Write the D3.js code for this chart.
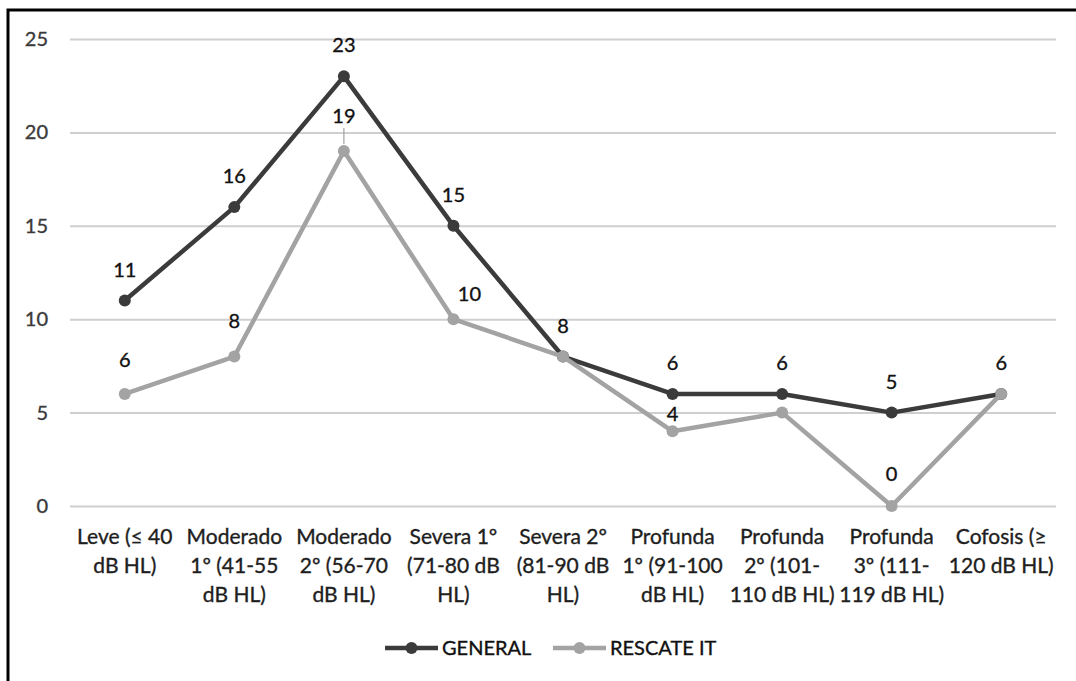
<!DOCTYPE html>
<html>
<head>
<meta charset="utf-8">
<script src="https://cdn.jsdelivr.net/npm/d3@7"></script>
<style>
  html, body { margin: 0; padding: 0; background: #fff; }
  svg { display: block; font-family: Lato, "Open Sans", sans-serif; }
  svg text { stroke-width: 0.35px; paint-order: stroke; }
</style>
</head>
<body>
<div id="chart"></div>
<script>
const width = 1076;
const height = 681;

// categorías (cada una ya partida en líneas)
const categories = [
  ["Leve (≤ 40", "dB HL)"],
  ["Moderado", "1º (41-55", "dB HL)"],
  ["Moderado", "2º (56-70", "dB HL)"],
  ["Severa 1º", "(71-80 dB", "HL)"],
  ["Severa 2º", "(81-90 dB", "HL)"],
  ["Profunda", "1º (91-100", "dB HL)"],
  ["Profunda", "2º (101-", "110 dB HL)"],
  ["Profunda", "3º (111-", "119 dB HL)"],
  ["Cofosis (≥", "120 dB HL)"]
];
const generalValues = [11, 16, 23, 15, 8, 6, 6, 5, 6];
const rescateValues = [6, 8, 19, 10, 8, 4, 5, 0, 6];
// etiquetas visibles de RESCATE IT (las que se solapan no se muestran)
const rescateShown = [true, true, true, true, false, true, false, true, false];
const yTicks = [0, 5, 10, 15, 20, 25];

const series = [
  { name: "GENERAL", values: generalValues, color: "#3b3b3b" },
  { name: "RESCATE IT", values: rescateValues, color: "#a3a3a3" }
];

// ajustes de posición de las etiquetas de RESCATE IT
const rescateDy = [27, 29, 28, 18, 24, 10, 24, 25, 24];
const rescateDx = [0, 0, 0, 16, 0, 0, 0, 0, 0];

const svg = d3.select("#chart")
  .append("svg")
  .attr("width", width)
  .attr("height", height);

const x = d3.scaleBand()
  .domain(d3.range(categories.length))
  .range([70, 1056]);
const cx = i => x(i) + x.bandwidth() / 2;

const y = d3.scaleLinear()
  .domain([0, 25])
  .range([506, 39]);

// borde
svg.append("path")
  .attr("d", `M8,${height} L8,10 L${width},10`)
  .attr("fill", "none")
  .attr("stroke", "#000")
  .attr("stroke-width", 3);

// rejilla + ticks
const yAxis = d3.axisLeft(y)
  .tickValues(yTicks)
  .tickSize(-(1056 - 70))
  .tickPadding(22);

const gy = svg.append("g")
  .attr("transform", "translate(70,0)")
  .call(yAxis);
gy.select(".domain").remove();
gy.selectAll(".tick line")
  .attr("stroke", "#cfcfcf")
  .attr("stroke-width", 2);
gy.selectAll(".tick text")
  .attr("fill", "#3a3a3a")
  .attr("stroke", "#3a3a3a")
  .style("font-size", "20px")
  .style("font-family", "Lato, sans-serif");

// etiquetas del eje x
const xl = svg.append("g");
categories.forEach((lines, i) => {
  const t = xl.append("text")
    .attr("x", cx(i))
    .attr("y", 544)
    .attr("text-anchor", "middle")
    .attr("fill", "#1e1e1e")
    .attr("stroke", "#1e1e1e")
    .style("font-size", "21px");
  lines.forEach((ln, j) => {
    t.append("tspan")
      .attr("x", cx(i))
      .attr("dy", j === 0 ? 0 : 29)
      .text(ln);
  });
});

const line = d3.line()
  .x((d, i) => cx(i))
  .y(d => y(d));

series.forEach(s => {
  svg.append("path")
    .datum(s.values)
    .attr("fill", "none")
    .attr("stroke", s.color)
    .attr("stroke-width", 4.5)
    .attr("stroke-linejoin", "round")
    .attr("d", line);
  svg.append("g")
    .selectAll("circle")
    .data(s.values)
    .join("circle")
    .attr("cx", (d, i) => cx(i))
    .attr("cy", d => y(d))
    .attr("r", 6)
    .attr("fill", s.color);
});

// línea guía del 19
svg.append("line")
  .attr("x1", cx(2)).attr("x2", cx(2))
  .attr("y1", y(rescateValues[2]) - 23)
  .attr("y2", y(rescateValues[2]) - 7)
  .attr("stroke", "#a3a3a3")
  .attr("stroke-width", 1.2);

// etiquetas de datos
svg.append("g")
  .selectAll("text")
  .data(generalValues)
  .join("text")
  .attr("x", (d, i) => cx(i))
  .attr("y", d => y(d) - 24)
  .attr("text-anchor", "middle")
  .attr("fill", "#111")
  .attr("stroke", "#111")
  .style("font-size", "20px")
  .text(d => d);

svg.append("g")
  .selectAll("text")
  .data(rescateValues.map((v, i) => ({ v, i })).filter(d => rescateShown[d.i]))
  .join("text")
  .attr("x", d => cx(d.i) + rescateDx[d.i])
  .attr("y", d => y(d.v) - rescateDy[d.i])
  .attr("text-anchor", "middle")
  .attr("fill", "#111")
  .attr("stroke", "#111")
  .style("font-size", "20px")
  .text(d => d.v);

// leyenda
const legendX = [385, 553];
const legend = svg.append("g");
series.forEach((s, k) => {
  const g = legend.append("g").attr("transform", `translate(${legendX[k]},648)`);
  g.append("line")
    .attr("x1", 0).attr("x2", 53)
    .attr("stroke", s.color)
    .attr("stroke-width", 4.5);
  g.append("circle")
    .attr("cx", 26.5)
    .attr("r", 6)
    .attr("fill", s.color);
  g.append("text")
    .attr("x", 57)
    .attr("y", 7)
    .attr("fill", "#111")
    .attr("stroke", "#111")
    .style("font-size", "20px")
    .text(s.name);
});
</script>
</body>
</html>
